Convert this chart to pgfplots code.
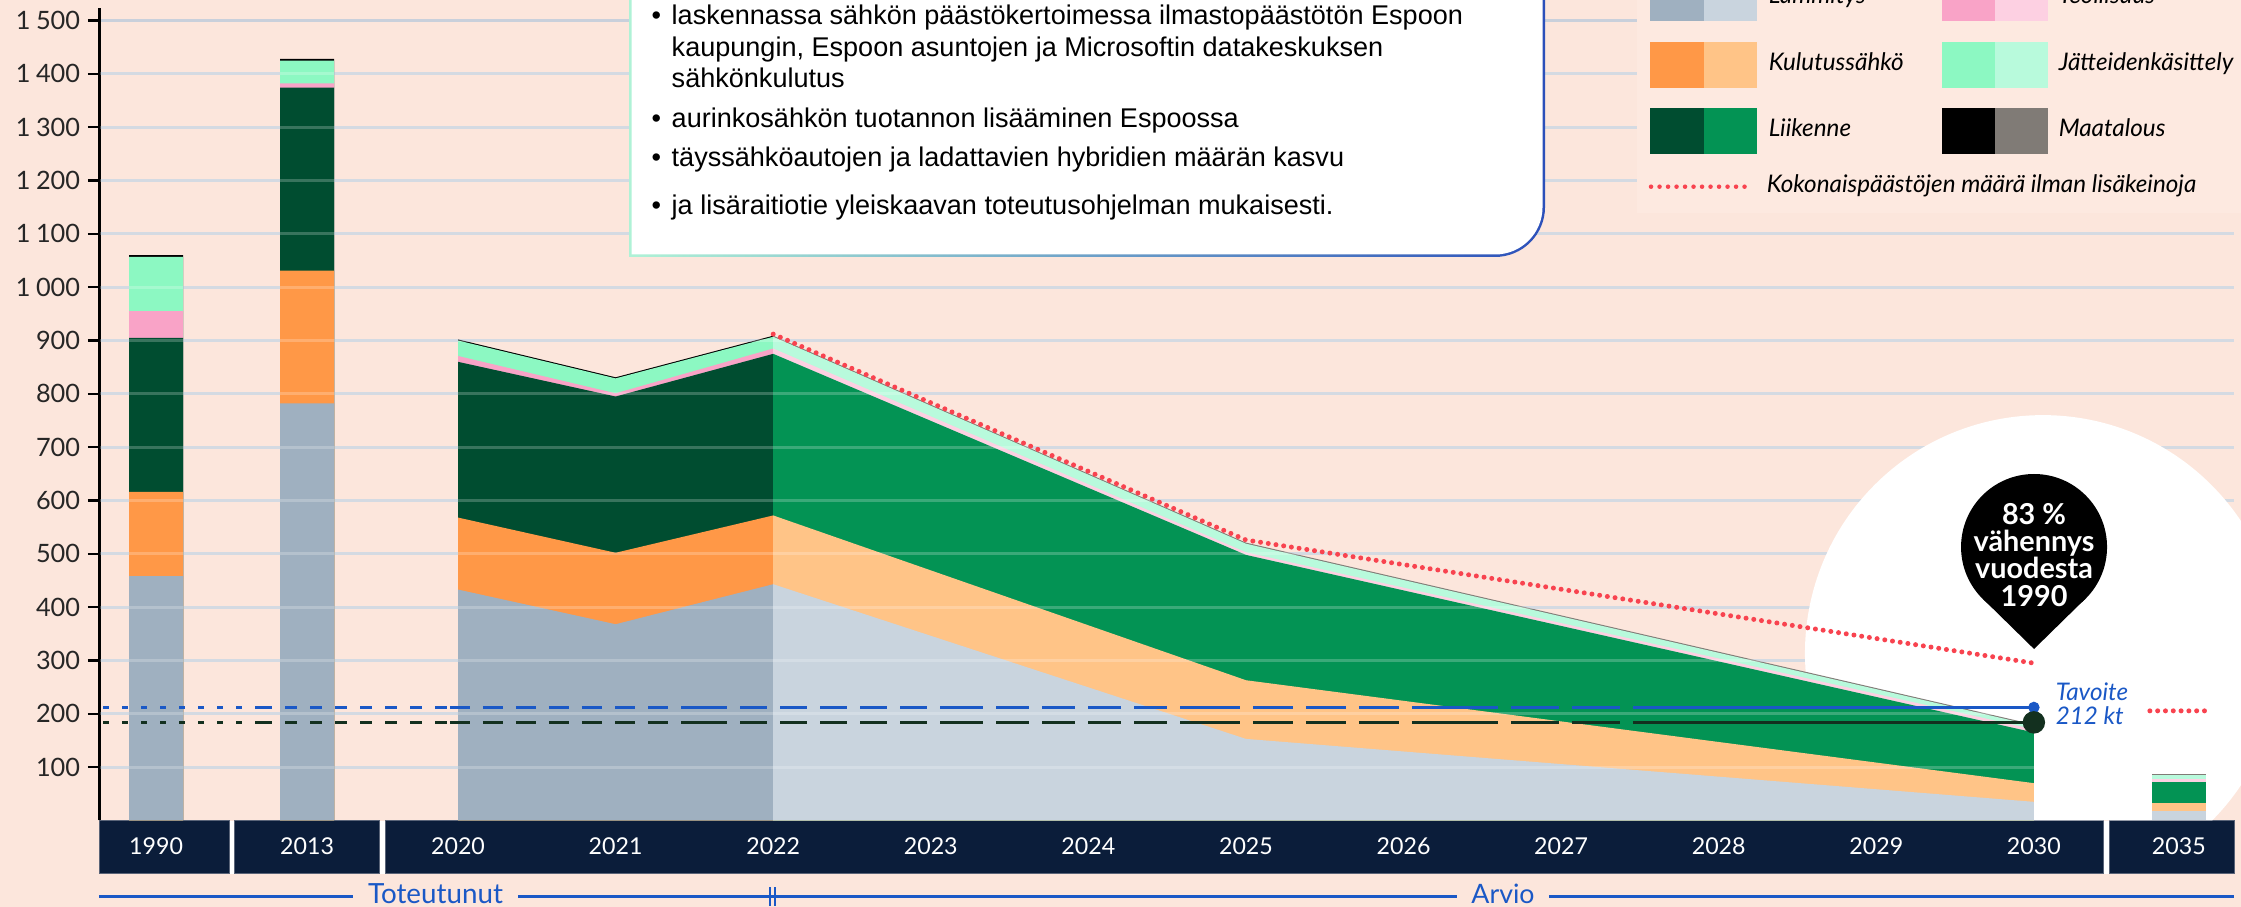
\documentclass[border=0pt]{standalone}
\usepackage{fontspec}
\setmainfont{Lato}
\newfontfamily\arialfont{Liberation Sans}
\usepackage{pgfplots}
\pgfplotsset{compat=1.18}

\definecolor{bgpeach}{HTML}{FCE6DC}
\definecolor{legbg}{HTML}{FDE9E0}
\definecolor{gridc}{HTML}{C9D0DB}
\definecolor{heatD}{HTML}{9FB0C0}
\definecolor{heatL}{HTML}{C9D4DE}
\definecolor{elecD}{HTML}{FF9847}
\definecolor{elecL}{HTML}{FFC487}
\definecolor{trafD}{HTML}{004D30}
\definecolor{trafL}{HTML}{039354}
\definecolor{indD}{HTML}{F9A3C7}
\definecolor{indL}{HTML}{FDD0E2}
\definecolor{wasteD}{HTML}{8CF8C2}
\definecolor{wasteL}{HTML}{B8FADC}
\definecolor{agriD}{HTML}{000000}
\definecolor{agriL}{HTML}{807B76}
\definecolor{dotred}{HTML}{F8434F}
\definecolor{tblue}{HTML}{1A58C6}
\definecolor{tdark}{HTML}{13301F}
\definecolor{navy}{HTML}{0B1D3A}
\definecolor{bandedge}{HTML}{5A6478}
\definecolor{pin}{HTML}{0D3A25}
\definecolor{boxmint}{HTML}{AFF2D6}
\definecolor{boxblue}{HTML}{2C50BA}

\pgfplotsset{
  mybar/.style={ybar, bar shift=0pt, bar width=5.4mm, draw=none},
  myarea/.style={draw=none},
  tgt/.style={line width=0.3mm},
  nomore/.style={dotred, line width=0.5mm, line cap=round, dash pattern=on 0pt off 0.78mm},
}
\newcommand{\legfont}{\fontsize{6.9}{8}\selectfont\itshape}
\newcommand{\boxfont}{\arialfont\fontsize{7.7}{9}\selectfont}

\begin{document}
\begin{tikzpicture}
\useasboundingbox (-10mm,-8.65mm) rectangle (214.1mm,82.05mm);
\clip (-10mm,-8.65mm) rectangle (214.1mm,82.05mm);
\fill[bgpeach] (-10mm,-8.65mm) rectangle (214.1mm,82.05mm);

% year band (1 px of the original = 0.1 mm)
\begin{scope}[x=0.1mm,y=-0.1mm,shift={(-10mm,82.05mm)}]
  \fill[white] (99,820.5) rectangle (2234,873.5);
  \filldraw[fill=navy, draw=bandedge, line width=0.1mm] (99,820.7) rectangle (229,873.3);
  \filldraw[fill=navy, draw=bandedge, line width=0.1mm] (234,820.7) rectangle (379,873.3);
  \filldraw[fill=navy, draw=bandedge, line width=0.1mm] (385,820.7) rectangle (2103,873.3);
  \filldraw[fill=navy, draw=bandedge, line width=0.1mm] (2109,820.7) rectangle (2234,873.3);
\end{scope}

\begin{axis}[
  at={(0,0)}, anchor=south west,
  scale only axis, width=213.4mm, height=81.25mm,
  xmin=-0.272, xmax=13.27, ymin=0, ymax=1523.5,
  clip=false,
  axis lines*=left,
  x axis line style={draw=none},
  y axis line style={line width=0.3mm, black},
  xtick={0.084,1.042,2,3,4,5,6,7,8,9,10,11,12,12.92},
  xticklabels={1990,2013,2020,2021,2022,2023,2024,2025,2026,2027,2028,2029,2030,2035},
  xtick style={draw=none},
  xticklabel style={anchor=center, yshift=-1.35mm, text=white, font=\fontsize{6.6}{7.8}\selectfont},
  ytick={100,200,300,400,500,600,700,800,900,1000,1100,1200,1300,1400,1500},
  ytick style={line width=0.25mm, black},
  tick align=outside,
  major tick length=1.2mm,
  yticklabel style={font=\fontsize{7.2}{8}\selectfont, text=black!85, xshift=0.45mm,
    /pgf/number format/1000 sep={\hspace{0.22em}}, /pgf/number format/assume math mode=true},
  ymajorgrids,
  grid style={gridc, line width=0.3mm},
]
% white disc behind the 2030 end point, cut at the axis bottom
\fill[white] (axis cs:10.984,0) arc[start angle=224.7, end angle=-44.7, radius=23.8mm] -- cycle;

% 2020-2022 realised, cumulative tops (agri, waste, industry, traffic, electricity, heating)
\addplot[myarea, fill=agriD]  coordinates {(2,902) (3,831) (4,909)} \closedcycle;
\addplot[myarea, fill=wasteD] coordinates {(2,900) (3,829) (4,907)} \closedcycle;
\addplot[myarea, fill=indD]   coordinates {(2,871) (3,801) (4,885)} \closedcycle;
\addplot[myarea, fill=trafD]  coordinates {(2,860) (3,795) (4,875)} \closedcycle;
\addplot[myarea, fill=elecD]  coordinates {(2,568) (3,502) (4,572)} \closedcycle;
\addplot[myarea, fill=heatD]  coordinates {(2,433) (3,368) (4,443)} \closedcycle;

% 2022-2030 forecast
\addplot[myarea, fill=agriL]  coordinates {(4,909) (7,521) (12,180)} \closedcycle;
\addplot[myarea, fill=wasteL] coordinates {(4,907) (7,519) (12,178)} \closedcycle;
\addplot[myarea, fill=indL]   coordinates {(4,885) (7,503) (12,171)} \closedcycle;
\addplot[myarea, fill=trafL]  coordinates {(4,875) (7,498) (12,165)} \closedcycle;
\addplot[myarea, fill=elecL]  coordinates {(4,572) (7,263) (12,70)} \closedcycle;
\addplot[myarea, fill=heatL]  coordinates {(4,443) (7,153) (12,35)} \closedcycle;

% 1990 and 2013 bars
\addplot[mybar, fill=agriD]  coordinates {(0.084,1060) (1.042,1428)};
\addplot[mybar, fill=wasteD] coordinates {(0.084,1057) (1.042,1425)};
\addplot[mybar, fill=indD]   coordinates {(0.084,955) (1.042,1382)};
\addplot[mybar, fill=trafD]  coordinates {(0.084,905) (1.042,1374)};
\addplot[mybar, fill=elecD]  coordinates {(0.084,616) (1.042,1031)};
\addplot[mybar, fill=heatD]  coordinates {(0.084,458) (1.042,782)};

% 2035 bar
\addplot[mybar, fill=agriL]  coordinates {(12.92,87)};
\addplot[mybar, fill=wasteL] coordinates {(12.92,85)};
\addplot[mybar, fill=indL]   coordinates {(12.92,77)};
\addplot[mybar, fill=trafL]  coordinates {(12.92,73)};
\addplot[mybar, fill=elecL]  coordinates {(12.92,33)};
\addplot[mybar, fill=heatL]  coordinates {(12.92,18)};

% grid shows faintly through the fills
\draw[white, opacity=0.22, line width=0.3mm]
  (axis cs:-0.272,100) -- (axis cs:13.27,100) (axis cs:-0.272,200) -- (axis cs:13.27,200)
  (axis cs:-0.272,300) -- (axis cs:13.27,300) (axis cs:-0.272,400) -- (axis cs:13.27,400)
  (axis cs:-0.272,500) -- (axis cs:13.27,500) (axis cs:-0.272,600) -- (axis cs:13.27,600)
  (axis cs:-0.272,700) -- (axis cs:13.27,700) (axis cs:-0.272,800) -- (axis cs:13.27,800)
  (axis cs:-0.272,900) -- (axis cs:13.27,900) (axis cs:-0.272,1000) -- (axis cs:13.27,1000)
  (axis cs:-0.272,1100) -- (axis cs:13.27,1100) (axis cs:-0.272,1200) -- (axis cs:13.27,1200)
  (axis cs:-0.272,1300) -- (axis cs:13.27,1300) (axis cs:-0.272,1400) -- (axis cs:13.27,1400);

% total without further measures
\addplot[nomore] coordinates {(4,912) (7,526) (12,295)};
\addplot[nomore] coordinates {(12.736,205.6) (13.085,205.6)};

% target 212 kt and the 2030 level, dashes lengthening towards 2030
\addplot[tgt, tblue, dash pattern=on 0.6mm off 1.3mm] coordinates {(-0.2525,212) (0.744,212)};
\addplot[tgt, tblue, dash pattern=on 1.2mm off 1.3mm] coordinates {(0.744,212) (1.949,212)};
\addplot[tgt, tblue, dash pattern=on 2.0mm off 1.3mm] coordinates {(1.949,212) (3.536,212)};
\addplot[tgt, tblue, dash pattern=on 2.7mm off 1.3mm] coordinates {(3.536,212) (5.122,212)};
\addplot[tgt, tblue, dash pattern=on 3.3mm off 1.3mm] coordinates {(5.122,212) (6.708,212)};
\addplot[tgt, tblue, dash pattern=on 4.0mm off 1.3mm] coordinates {(6.708,212) (8.294,212)};
\addplot[tgt, tblue, dash pattern=on 4.8mm off 1.3mm] coordinates {(8.294,212) (9.627,212)};
\addplot[tgt, tblue] coordinates {(9.627,212) (12,212)};

\addplot[tgt, tdark, dash pattern=on 0.6mm off 1.3mm] coordinates {(-0.2525,184) (0.744,184)};
\addplot[tgt, tdark, dash pattern=on 1.2mm off 1.3mm] coordinates {(0.744,184) (1.949,184)};
\addplot[tgt, tdark, dash pattern=on 2.0mm off 1.3mm] coordinates {(1.949,184) (3.536,184)};
\addplot[tgt, tdark, dash pattern=on 2.7mm off 1.3mm] coordinates {(3.536,184) (5.122,184)};
\addplot[tgt, tdark, dash pattern=on 3.3mm off 1.3mm] coordinates {(5.122,184) (6.708,184)};
\addplot[tgt, tdark, dash pattern=on 4.0mm off 1.3mm] coordinates {(6.708,184) (8.294,184)};
\addplot[tgt, tdark, dash pattern=on 4.8mm off 1.3mm] coordinates {(8.294,184) (9.627,184)};
\addplot[tgt, tdark] coordinates {(9.627,184) (12,184)};

\addplot[only marks, mark=*, mark size=0.5mm, tblue] coordinates {(12,212)};
\addplot[only marks, mark=*, mark size=1.05mm, tdark] coordinates {(12,184)};
\end{axis}

\begin{scope}[x=0.1mm,y=-0.1mm,shift={(-10mm,82.05mm)}]
  % legend
  \fill[legbg] (1637,-10) rectangle (2250,213);
  \fill[heatD] (1650,-25) rectangle (1704,21.5);    \fill[heatL] (1704,-25) rectangle (1757,21.5);
  \fill[indD] (1942,-25) rectangle (1995,21.5);     \fill[indL] (1995,-25) rectangle (2048,21.5);
  \fill[elecD] (1650,41.7) rectangle (1704,88.2);   \fill[elecL] (1704,41.7) rectangle (1757,88.2);
  \fill[wasteD] (1942,41.7) rectangle (1995,88.2);  \fill[wasteL] (1995,41.7) rectangle (2048,88.2);
  \fill[trafD] (1650,107.7) rectangle (1704,154.2); \fill[trafL] (1704,107.7) rectangle (1757,154.2);
  \fill[agriD] (1942,107.7) rectangle (1995,154.2); \fill[agriL] (1995,107.7) rectangle (2048,154.2);
  \node[anchor=base west, inner sep=0, font=\legfont] at (1768,4) {Lämmitys};
  \node[anchor=base west, inner sep=0, font=\legfont] at (2058,4) {Teollisuus};
  \node[anchor=base west, inner sep=0, font=\legfont] at (1768,71) {Kulutussähkö};
  \node[anchor=base west, inner sep=0, font=\legfont] at (2058,71) {Jätteidenkäsittely};
  \node[anchor=base west, inner sep=0, font=\legfont] at (1768,137) {Liikenne};
  \node[anchor=base west, inner sep=0, font=\legfont] at (2058,137) {Maatalous};
  \node[anchor=base west, inner sep=0, font=\legfont] at (1766,193) {Kokonaispäästöjen määrä ilman lisäkeinoja};
  \draw[dotred, line width=0.45mm, line cap=round, dash pattern=on 0pt off 0.85mm] (1651,186.7) -- (1751,186.7);

  % text box
  \shade[left color=boxmint, right color=boxblue]
    (629,-60) -- (629,257) -- (1495,257) arc[start angle=90, end angle=0, radius=50] -- (1545,-60) -- cycle;
  \fill[white]
    (631.5,-60) -- (631.5,254.5) -- (1495,254.5) arc[start angle=90, end angle=0, radius=47.5] -- (1542.5,-60) -- cycle;
  \node[anchor=base west, inner sep=0, font=\boxfont] at (651,25) {•};
  \node[anchor=base west, inner sep=0, font=\boxfont] at (671,25) {laskennassa sähkön päästökertoimessa ilmastopäästötön Espoon};
  \node[anchor=base west, inner sep=0, font=\boxfont] at (671,57) {kaupungin, Espoon asuntojen ja Microsoftin datakeskuksen};
  \node[anchor=base west, inner sep=0, font=\boxfont] at (671,88) {sähkönkulutus};
  \node[anchor=base west, inner sep=0, font=\boxfont] at (651,128) {•};
  \node[anchor=base west, inner sep=0, font=\boxfont] at (671,128) {aurinkosähkön tuotannon lisääminen Espoossa};
  \node[anchor=base west, inner sep=0, font=\boxfont] at (651,167) {•};
  \node[anchor=base west, inner sep=0, font=\boxfont] at (671,167) {täyssähköautojen ja ladattavien hybridien määrän kasvu};
  \node[anchor=base west, inner sep=0, font=\boxfont] at (651,215) {•};
  \node[anchor=base west, inner sep=0, font=\boxfont] at (671,215) {ja lisäraitiotie yleiskaavan toteutusohjelman mukaisesti.};

  % pin
  \fill[pin] (2034,547) circle[radius=73];
  \fill[pin] (1983,599) -- (2085,599) -- (2034,649) -- cycle;
  \node[text=white, align=center, inner sep=0, font=\fontsize{8.2}{7.7}\selectfont\bfseries] at (2034,555)
    {83~\%\\vähennys\\vuodesta\\1990};
  \node[anchor=base west, inner sep=0, text=tblue, font=\fontsize{6.9}{8}\selectfont\itshape] at (2055,700) {Tavoite};
  \node[anchor=base west, inner sep=0, text=tblue, font=\fontsize{6.9}{8}\selectfont\itshape] at (2055,724) {212 kt};

  % time line
  \draw[tblue, line width=0.25mm] (99,896.7) -- (353,896.7) (518,896.7) -- (1457,896.7) (1549,896.7) -- (2234,896.7);
  \draw[tblue, line width=0.2mm] (770,887) -- (770,906) (775,887) -- (775,906);
  \node[text=tblue, inner sep=0, font=\fontsize{7.9}{8}\selectfont] at (435.5,894) {Toteutunut};
  \node[text=tblue, inner sep=0, font=\fontsize{7.6}{8}\selectfont] at (1503,894) {Arvio};
\end{scope}
\end{tikzpicture}
\end{document}
